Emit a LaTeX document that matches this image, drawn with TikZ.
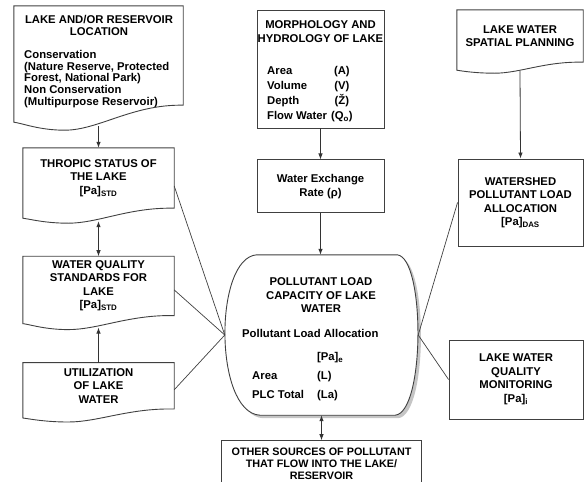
\documentclass[tikz,border=0pt]{standalone}
\usepackage{fontspec}
\setmainfont{Liberation Sans}
\usepackage{tikz}
\usetikzlibrary{arrows.meta,positioning,calc,shadows}

\begin{document}
\begin{tikzpicture}[
    x=1pt, y=-1pt,
    font=\fontsize{11.3}{13.5}\selectfont\bfseries,
    outline/.style={draw=black!75, line width=0.9pt},
    rbox/.style={outline, align=center, inner sep=0pt},
    docbox/.style={align=center, inner sep=0pt},
    txt/.style={inner sep=0pt, align=left},
    arrow/.style={-{Latex[length=6pt,width=4.5pt]}, draw=black!80, line width=0.8pt},
    darrow/.style={{Latex[length=6pt,width=4.5pt]}-{Latex[length=6pt,width=4.5pt]}, draw=black!80, line width=0.8pt},
    link/.style={draw=black!75, line width=0.7pt}
  ]
    \useasboundingbox (0,0) rectangle (584,482);

    % left column
    \node[docbox, minimum width=169pt, minimum height=99pt] (loc) at (98.5,55.5) {};
    \node[txt, anchor=north, align=center, font=\fontsize{11.3}{11.8}\selectfont\bfseries] (loc-title) at (99,15.5)
      {LAKE AND/OR RESERVOIR\\LOCATION};
    \node[txt, anchor=north west, font=\fontsize{11.3}{11.8}\selectfont\bfseries] (loc-list) at (24,50)
      {Conservation\\(Nature Reserve, Protected\\Forest, National Park)\\Non Conservation\\(Multipurpose Reservoir)};
    \node[docbox, minimum width=151pt, minimum height=60pt] (thr) at (98.5,178)
      {THROPIC STATUS OF\\THE LAKE\\{}[Pa]\textsubscript{STD}};
    \node[docbox, minimum width=151pt, minimum height=59pt, below=48pt of thr] (wqs)
      {WATER QUALITY\\STANDARDS FOR\\LAKE\\{}[Pa]\textsubscript{STD}};
    \node[docbox, minimum width=151pt, minimum height=46pt, below=47pt of wqs] (util)
      {UTILIZATION\\OF LAKE\\WATER};

    % middle column
    \node[rbox, minimum width=127pt, minimum height=118pt] (morph) at (320.5,69) {};
    \node[txt, anchor=north, align=center] (morph-title) at (320.5,20.5)
      {MORPHOLOGY AND\\HYDROLOGY OF LAKE};
    \node[txt, anchor=north west] (morph-list) at (267,63.5)
      {\def\arraystretch{1.12}\begin{tabular}{@{}l@{\hspace{4pt}}c@{}}
        Area & (A)\\ Volume & (V)\\ Depth & (Ž)\\ Flow Water & (Q\textsubscript{o})
      \end{tabular}};
    \node[rbox, minimum width=127pt, minimum height=53pt, below=31pt of morph] (wer)
      {Water Exchange\\Rate (ρ)};
    \node[minimum width=193pt, minimum height=160pt, inner sep=0pt] (plc) at (321.5,335) {};
    % barrel outline of plc
    \draw[outline, fill=white, drop shadow={shadow xshift=3pt, shadow yshift=-3pt, fill=black!45}]
      ($(plc.north west)+(32,0)$) -- ($(plc.north east)+(-21,0)$)
      .. controls ($(plc.north east)+(7,3)$) and ($(plc.south east)+(7,-3)$) .. ($(plc.south east)+(-23,0)$)
      -- ($(plc.south west)+(35,0)$)
      .. controls ($(plc.south west)+(-11,-3)$) and ($(plc.north west)+(-11,3)$) .. cycle;
    \node[txt, anchor=north, align=center] (plc-title) at (321,277.5)
      {POLLUTANT LOAD\\CAPACITY OF LAKE\\WATER};
    \node[txt, anchor=west] (plc-pla) at (242,333) {Pollutant Load Allocation};
    \node[txt, anchor=north west] (plc-tab) at (252,347)
      {\def\arraystretch{1.42}\begin{tabular}{@{}l@{\hspace{13pt}}l@{}}
        & [Pa]\textsubscript{e}\\ Area & (L)\\ PLC Total & (La)
      \end{tabular}};
    \node[rbox, minimum width=200pt, minimum height=46pt, below=25pt of plc,
          font=\fontsize{10.8}{12}\selectfont\bfseries] (oth)
      {OTHER SOURCES OF POLLUTANT\\THAT FLOW INTO THE LAKE/\\RESERVOIR};

    % right column
    \node[docbox, minimum width=126pt, minimum height=52pt] (plan) at (520,36)
      {LAKE WATER\\SPATIAL PLANNING};
    \node[rbox, minimum width=125pt, minimum height=87pt] (wsh) at (520.5,202.5)
      {WATERSHED\\POLLUTANT LOAD\\ALLOCATION\\{}[Pa]\textsubscript{DAS}};
    \node[rbox, minimum width=134pt, minimum height=79pt] (mon) at (516,379.5)
      {LAKE WATER\\QUALITY\\MONITORING\\{}[Pa]\textsubscript{i}};

    % document shapes with wavy bottom
    \foreach \n/\d/\e in {loc/17/8, thr/10/5, wqs/8/6, util/9/4, plan/8/3}
      \draw[outline] ($(\n.south west)+(0,\d)$) -- (\n.north west) -- (\n.north east) -- (\n.south east)
        .. controls ($(\n.south east)!.3!(\n.south west)+(0,-1)$) and ($(\n.south west)!.5!(\n.south east)+(0,\d+\e)$)
        .. ($(\n.south west)!.3!(\n.south east)+(0,\d+\e)$)
        .. controls ($(\n.south west)!.15!(\n.south east)+(0,\d+\e)$) and ($(\n.south west)!.05!(\n.south east)+(0,\d+1)$)
        .. ($(\n.south west)+(0,\d)$) -- cycle;

    % connectors
    \draw[arrow] ([yshift=-21pt]loc.south) -- (thr.north);
    \draw[darrow] ([yshift=-13pt]thr.south) -- (wqs.north);
    \draw[arrow] (util.north) -- ([yshift=-12pt]wqs.south);
    \draw[arrow] (morph.south) -- (wer.north);
    \draw[arrow] (wer.south) -- (wer.south |- plc.north);
    \draw[darrow] (plc.south) -- (plc.south |- oth.north);
    \draw[arrow] ([yshift=-9pt]plan.south) -- (wsh.north);
    \draw[link] ([yshift=-8pt]thr.east) -- (plc.west);
    \draw[link] ([yshift=-4pt]wqs.east) -- (plc.west);
    \draw[link] ([yshift=-4pt]util.east) -- (plc.west);
    \draw[link] (wsh.west) -- (plc.east);
    \draw[link] (mon.west) -- (plc.east);
  \end{tikzpicture}
\end{document}
